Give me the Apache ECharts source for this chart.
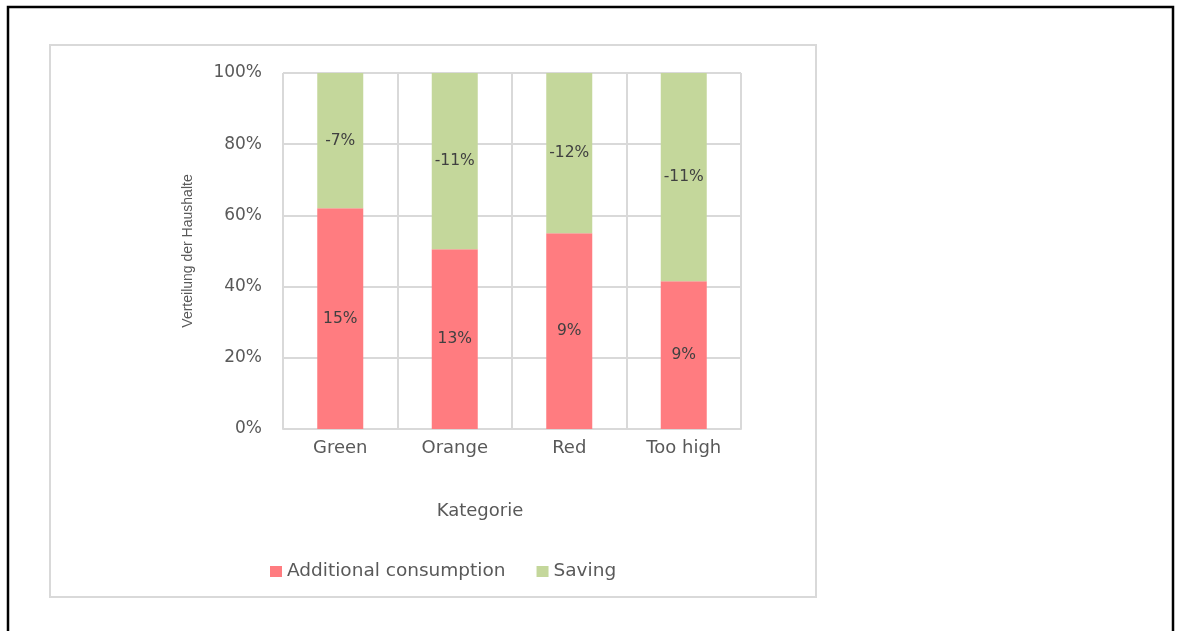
<!DOCTYPE html>
<html><head><meta charset="utf-8">
<script src="https://cdn.jsdelivr.net/npm/echarts@6/dist/echarts.min.js"></script>
<style>html,body{margin:0;padding:0;background:#fff;}#c{width:1182px;height:631px;}</style>
</head><body><div id="c"></div>
<script>
const categories = ['Green', 'Orange', 'Red', 'Too high'];
const consumptionShare = [62, 50.5, 55, 41.5];
const savingShare = [38, 49.5, 45, 58.5];
const consumptionLabels = ['15%', '13%', '9%', '9%'];
const savingLabels = ['-7%', '-11%', '-12%', '-11%'];
const yTicks = [0, 20, 40, 60, 80, 100];

const chart = echarts.init(document.getElementById('c'));
const txt = '#595959';
const font = 'DejaVu Sans';
chart.setOption({
  animation: false,
  textStyle: { fontFamily: font },
  graphic: [
    { type: 'rect', shape: { x: 8, y: 7, width: 1165, height: 640 }, style: { fill: 'none', stroke: '#000', lineWidth: 2.5 } },
    { type: 'rect', shape: { x: 50, y: 45, width: 766, height: 552 }, style: { fill: 'none', stroke: '#d9d9d9', lineWidth: 2 } }
  ],
  grid: { left: 283, top: 73, width: 458, height: 356, containLabel: false },
  legend: {
    left: 265, top: 557,
    itemWidth: 12, itemHeight: 11, itemGap: 31,
    icon: 'rect',
    textStyle: { color: txt, fontSize: 18.5, fontFamily: font },
    data: ['Additional consumption', 'Saving']
  },
  xAxis: {
    type: 'category', data: categories,
    name: 'Kategorie', nameLocation: 'middle', nameGap: 73,
    nameTextStyle: { color: txt, fontSize: 18, fontFamily: font, padding: [0, 64, 0, 0] },
    axisLine: { lineStyle: { color: '#d9d9d9', width: 2 } },
    axisTick: { show: false },
    axisLabel: { color: txt, fontSize: 18, margin: 10 },
    splitLine: { show: true, lineStyle: { color: '#d9d9d9', width: 2 } }
  },
  yAxis: {
    type: 'value', min: 0, max: 100, interval: 20,
    name: 'Verteilung der Haushalte', nameLocation: 'middle', nameGap: 88,
    nameTextStyle: { color: txt, fontSize: 14, fontFamily: 'Liberation Sans' },
    axisLine: { show: false }, axisTick: { show: false },
    axisLabel: { color: txt, fontSize: 17, margin: 21, formatter: v => yTicks.includes(v) ? v + '%' : '' },
    splitLine: { lineStyle: { color: '#d9d9d9', width: 2 } }
  },
  series: [
    {
      name: 'Additional consumption', type: 'bar', stack: 'a', barWidth: 46,
      itemStyle: { color: '#FF7C80' },
      data: consumptionShare,
      label: { show: true, position: 'inside', color: '#404040', fontSize: 15.5, fontFamily: font,
        formatter: p => consumptionLabels[p.dataIndex] }
    },
    {
      name: 'Saving', type: 'bar', stack: 'a', barWidth: 46,
      itemStyle: { color: '#C4D79B' },
      data: savingShare,
      label: { show: true, position: 'inside', color: '#404040', fontSize: 15.5, fontFamily: font,
        formatter: p => savingLabels[p.dataIndex] }
    }
  ]
});
</script></body></html>
